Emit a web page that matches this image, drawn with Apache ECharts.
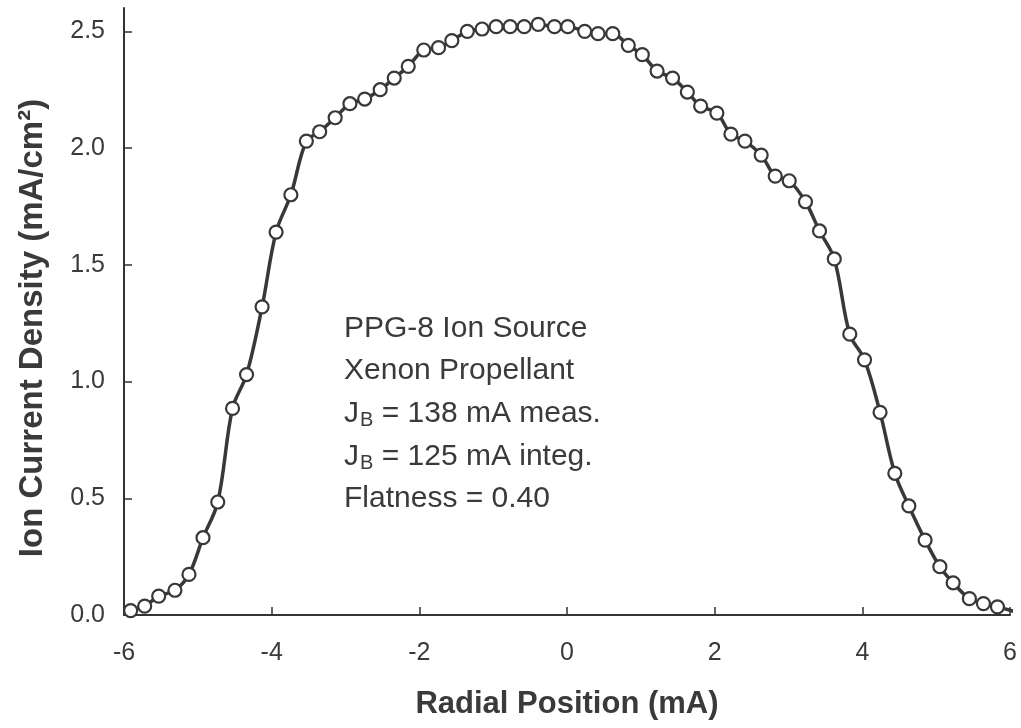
<!DOCTYPE html>
<html>
<head>
<meta charset="utf-8">
<title>Ion Current Density Profile</title>
<script src="https://cdn.jsdelivr.net/npm/echarts@6/dist/echarts.min.js"></script>
<style>
  html, body { margin: 0; padding: 0; background: #fff; }
  #chart { width: 1021px; height: 728px; }
</style>
</head>
<body>
<div id="chart"></div>
<script>
// radial position of each probe reading (first and last entries are the curve ends, no marker)
const radialPos = [
  -6.00, -5.91, -5.72, -5.53, -5.31, -5.12, -4.93, -4.73, -4.53, -4.34, -4.13,
  -3.94, -3.74, -3.53, -3.35, -3.14, -2.94, -2.74, -2.53, -2.34, -2.15,
  -1.94, -1.74, -1.56, -1.35, -1.15, -0.96, -0.77, -0.58, -0.39, -0.17,
  0.01, 0.24, 0.42, 0.62, 0.83, 1.02, 1.22, 1.43, 1.63, 1.81,
  2.03, 2.22, 2.41, 2.63, 2.82, 3.01, 3.23, 3.42, 3.62, 3.83,
  4.03, 4.24, 4.44, 4.63, 4.85, 5.05, 5.23, 5.45, 5.64, 5.83, 6.06
];
// ion current density, mA/cm2
const density = [
  0.008, 0.019, 0.038, 0.081, 0.106, 0.174, 0.331, 0.484, 0.885, 1.03, 1.32,
  1.64, 1.80, 2.03, 2.07, 2.13, 2.19, 2.21, 2.25, 2.30, 2.35,
  2.42, 2.43, 2.46, 2.50, 2.51, 2.52, 2.52, 2.52, 2.53, 2.52,
  2.52, 2.50, 2.49, 2.49, 2.44, 2.40, 2.33, 2.30, 2.24, 2.18,
  2.15, 2.06, 2.03, 1.97, 1.88, 1.86, 1.77, 1.645, 1.525, 1.203,
  1.093, 0.868, 0.607, 0.467, 0.321, 0.207, 0.138, 0.070, 0.049, 0.035, 0.015
];
const yTicks = [0, 0.5, 1.0, 1.5, 2.0, 2.5];
const yTitle = 'Ion Current Density (mA/cm²)';
const xTitle = 'Radial Position (mA)';
const notes = [
  'PPG-8 Ion Source',
  'Xenon Propellant',
  'J{b|B} = 138 mA meas.',
  'J{b|B} = 125 mA integ.',
  'Flatness = 0.40'
];

const ink = '#333';
const textInk = '#3a3a3a';
const font = 'Liberation Sans, Arial, sans-serif';

const last = radialPos.length - 1;
const seriesData = radialPos.map((x, i) => {
  const p = [x, density[i]];
  return (i === 0 || i === last) ? { value: p, symbol: 'none' } : p;
});

// annotation block, one text per line
const noteY = [327, 369, 412, 455, 497];
const graphics = notes.map((t, i) => ({
  type: 'text',
  left: 344,
  top: noteY[i] - 13,
  style: {
    text: t,
    fill: textInk,
    font: '30px ' + font,
    rich: {
      b: { fontSize: 20, fontFamily: font, fill: textInk, padding: [13, 0, 0, 1] }
    }
  }
}));

// rotated y axis title
graphics.push({
  type: 'text',
  x: 33,
  y: 328,
  rotation: Math.PI / 2,
  style: {
    text: yTitle,
    fill: textInk,
    font: 'bold 33px ' + font,
    align: 'center',
    verticalAlign: 'middle'
  }
});

const chart = echarts.init(document.getElementById('chart'), null, { renderer: 'canvas' });
chart.setOption({
  animation: false,
  backgroundColor: '#fff',
  textStyle: { fontFamily: font },
  grid: { left: 124, right: 11, top: 8, bottom: 113, containLabel: false, outerBoundsMode: 'none' },
  xAxis: {
    type: 'value',
    min: -6, max: 6, interval: 2,
    name: xTitle,
    nameLocation: 'middle',
    nameGap: 74,
    nameTextStyle: { fontSize: 31, fontWeight: 'bold', color: textInk, fontFamily: font },
    axisLine: { show: true, onZero: false, lineStyle: { color: ink, width: 2 } },
    axisTick: { show: true, inside: true, length: 8, lineStyle: { color: ink, width: 1.5 } },
    axisLabel: { fontSize: 25, color: textInk, margin: 26, fontFamily: font },
    splitLine: { show: false }
  },
  yAxis: {
    type: 'value',
    min: 0, max: 2.6,
    axisLine: { show: true, onZero: false, lineStyle: { color: ink, width: 2 } },
    axisTick: { show: true, inside: true, length: 8, customValues: yTicks, lineStyle: { color: ink, width: 1.5 } },
    axisLabel: {
      fontSize: 25, color: textInk, margin: 19, fontFamily: font,
      customValues: yTicks,
      formatter: v => v.toFixed(1)
    },
    splitLine: { show: false }
  },
  graphic: graphics,
  series: [{
    type: 'line',
    data: seriesData,
    smooth: 0.35,
    clip: false,
    symbol: 'circle',
    symbolSize: 13,
    showAllSymbol: true,
    lineStyle: { color: '#383838', width: 3.5 },
    itemStyle: { color: '#fff', borderColor: '#383838', borderWidth: 2.2 },
    z: 3
  }]
});
</script>
</body>
</html>
